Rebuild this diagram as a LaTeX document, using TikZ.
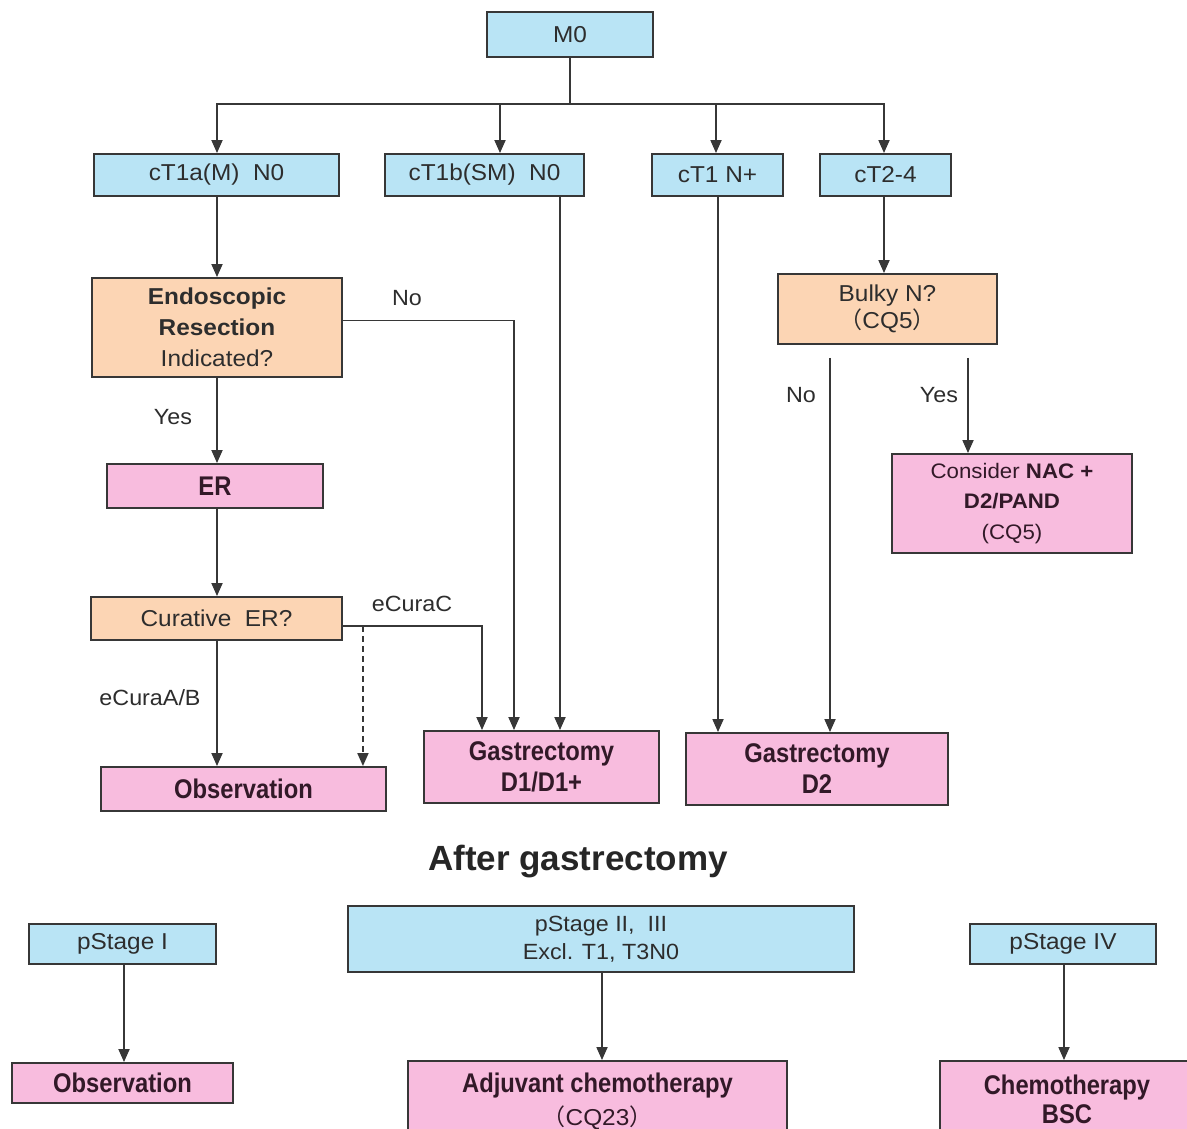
\documentclass[tikz,border=0pt]{standalone}
\usepackage{fontspec}
\setmainfont{Liberation Sans}
\newfontfamily\widefont[FakeStretch=1.06]{Liberation Sans}
\newfontfamily\narrowfont[FakeStretch=0.88]{Liberation Sans}
\newfontfamily\cjk{Noto Sans CJK SC}
\usetikzlibrary{arrows.meta}

\definecolor{boxblue}{RGB}{185,228,245}
\definecolor{boxorange}{RGB}{252,213,180}
\definecolor{boxpink}{RGB}{248,188,222}
\definecolor{edge}{RGB}{55,55,55}
\definecolor{ink}{RGB}{45,45,45}
\definecolor{pinkink}{RGB}{50,25,40}

\newcommand{\fwl}{{\cjk （}}
\newcommand{\fwr}{{\cjk ）}}

\tikzset{
  box/.style={draw=edge, line width=1.9pt, text=ink, align=center, inner sep=0pt,
              font=\widefont\fontsize{23}{31}\selectfont},
  bluebox/.style={box, fill=boxblue},
  orangebox/.style={box, fill=boxorange},
  pinkbox/.style={box, fill=boxpink, text=pinkink,
                  font=\narrowfont\bfseries\fontsize{27}{31}\selectfont},
  arr/.style={draw=edge, line width=1.8pt, -{Triangle[length=13pt,width=11pt]}},
  conn/.style={draw=edge, line width=1.8pt},
  lbl/.style={text=ink, font=\widefont\fontsize{22}{26}\selectfont, inner sep=0pt},
}

\begin{document}
\begin{tikzpicture}[x=1pt, y=-1pt]
\clip (0,0) rectangle (1187,1129);
\fill[white] (0,0) rectangle (1187,1129);

% ---- staging boxes ----
\node[bluebox, minimum width=166, minimum height=45] (m0) at (570,34.5) {M0};
\node[bluebox, minimum width=245, minimum height=42] (a1) at (216.5,175) {cT1a(M)\ \ N0};
\node[bluebox, minimum width=199, minimum height=42] (a2) at (484.5,175) {cT1b(SM)\ \ N0};
\node[bluebox, minimum width=131, minimum height=42] (a3) at (717.5,175) {cT1 N+};
\node[bluebox, minimum width=131, minimum height=42] (a4) at (885.5,175) {cT2-4};

% ---- decisions ----
\node[orangebox, minimum width=250, minimum height=99] (eri) at (217,327.5)
  {\textbf{Endoscopic}\\\textbf{Resection}\\Indicated?};
\node[orangebox, minimum width=219, minimum height=70, font=\widefont\fontsize{23}{27}\selectfont] (bulky) at (887.5,309)
  {Bulky N?\\\fwl CQ5\fwr};
\node[orangebox, minimum width=251, minimum height=43] (cur) at (216.5,618.5)
  {Curative\ \ ER?};

% ---- treatments ----
\node[pinkbox, minimum width=216, minimum height=44] (er) at (215,486) {ER};
\node[box, fill=boxpink, text=pinkink, minimum width=240, minimum height=99,
      font=\widefont\fontsize{21}{30.5}\selectfont] (nac) at (1012,503.5)
  {Consider \textbf{NAC +}\\\textbf{D2/PAND}\\(CQ5)};
\node[pinkbox, minimum width=285, minimum height=44] (obs1) at (243.5,789) {Observation};
\node[pinkbox, minimum width=235, minimum height=72] (g1) at (541.5,767) {Gastrectomy\\D1/D1+};
\node[pinkbox, minimum width=262, minimum height=72] (g2) at (817,769) {Gastrectomy\\D2};

% ---- after gastrectomy ----
\node[text=black!85, font=\fontsize{35}{40}\selectfont\bfseries, inner sep=0pt] (title) at (578,862) {After gastrectomy};

\node[bluebox, minimum width=187, minimum height=40] (p1) at (122.5,944) {pStage I};
\node[bluebox, minimum width=506, minimum height=66, font=\widefont\fontsize{22}{28}\selectfont] (p2) at (601,939)
  {pStage II,\ \ III\\Excl. T1, T3N0};
\node[bluebox, minimum width=186, minimum height=40] (p4) at (1063,944) {pStage IV};

\node[pinkbox, minimum width=221, minimum height=40] (o2) at (122.5,1083) {Observation};
\node[pinkbox, minimum width=379, minimum height=80, font=\narrowfont\bfseries\fontsize{27}{33}\selectfont] (adj) at (597.5,1101)
  {Adjuvant chemotherapy\\\mdseries\widefont\fontsize{23}{33}\selectfont\fwl CQ23\fwr};
\node[pinkbox, minimum width=254, minimum height=76, font=\narrowfont\bfseries\fontsize{27}{29}\selectfont] (chemo) at (1067,1099)
  {Chemotherapy\\BSC};

% ---- connectors: top branching ----
\coordinate (bar) at ([yshift=-46]m0.south);
\draw[conn] (m0.south) -- (bar);
\draw[arr] (bar) -| ([xshift=0.5]a1.north);
\draw[arr] (bar) -| ([xshift=15.5]a2.north);
\draw[arr] (bar) -| ([xshift=-1.5]a3.north);
\draw[arr] (bar) -| ([xshift=-1.5]a4.north);

% ---- cT1a(M) N0 pathway ----
\draw[arr] ([xshift=0.5]a1.south) -- (eri.north);
\draw[arr] ([yshift=7]eri.east) -| ([xshift=-27.5]g1.north);
\draw[arr] (eri.south) -- (eri.south |- er.north);
\draw[arr] ([xshift=0.5]cur.north |- er.south) -- ([xshift=0.5]cur.north);
\draw[arr] ([xshift=0.5]cur.south) -- ([xshift=0.5]cur.south |- obs1.north);
\draw[arr] ([yshift=-7.5]cur.east) -| ([xshift=-59.5]g1.north);
\coordinate (dash0) at ([xshift=20,yshift=-7.5]cur.east);
\draw[arr, dash pattern=on 6pt off 4pt] (dash0) -- (dash0 |- obs1.north);

% ---- cT1b, cT1 N+ ----
\coordinate (b0) at ([xshift=75.5]a2.south);
\draw[arr] (b0) -- (b0 |- g1.north);
\draw[arr] ([xshift=0.5]a3.south) -- ([xshift=0.5]a3.south |- g2.north);

% ---- cT2-4 pathway ----
\draw[arr] ([xshift=-1.5]a4.south) -- ([xshift=-1.5]a4.south |- bulky.north);
\coordinate (no0) at ([xshift=-57.5,yshift=-13]bulky.south);
\coordinate (yes0) at ([xshift=80.5,yshift=-13]bulky.south);
\draw[arr] (no0) -- (no0 |- g2.north);
\draw[arr] (yes0) -- (yes0 |- nac.north);

% ---- after gastrectomy ----
\draw[arr] ([xshift=1.5]p1.south) -- ([xshift=1.5]p1.south |- o2.north);
\draw[arr] ([xshift=1]p2.south) -- ([xshift=1]p2.south |- adj.north);
\draw[arr] ([xshift=1]p4.south) -- ([xshift=1]p4.south |- chemo.north);

% ---- branch labels ----
\node[lbl] (lno1) at (407,298) {No};
\node[lbl] (lyes1) at (173,417) {Yes};
\node[lbl] (lab) at (150,698) {eCuraA/B};
\node[lbl] (lc) at (412,604) {eCuraC};
\node[lbl] (lno2) at (801,395) {No};
\node[lbl] (lyes2) at (939,395) {Yes};
\end{tikzpicture}
\end{document}
